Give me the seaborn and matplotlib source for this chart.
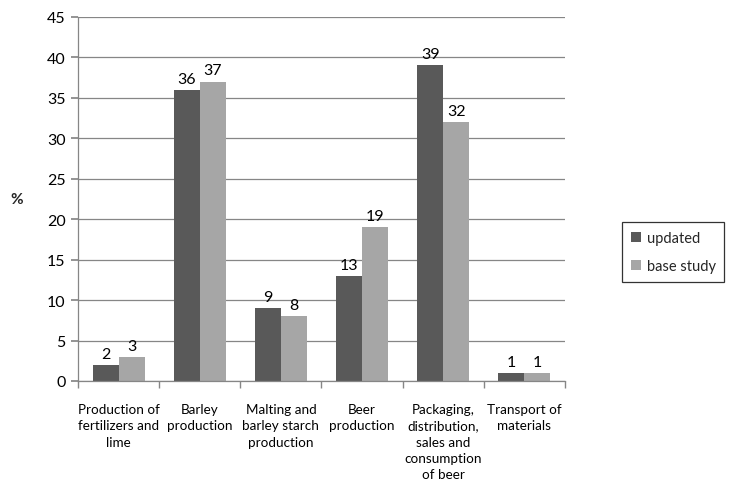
import matplotlib
matplotlib.use("Agg")
import matplotlib.pyplot as plt
import seaborn as sns
import pandas as pd
import numpy as np

categories = [
    "Production of\nfertilizers and\nlime",
    "Barley\nproduction",
    "Malting and\nbarley starch\nproduction",
    "Beer\nproduction",
    "Packaging,\ndistribution,\nsales and\nconsumption\nof beer",
    "Transport of\nmaterials",
]
updated = [2, 36, 9, 13, 39, 1]
base_study = [3, 37, 8, 19, 32, 1]
series = ["updated", "base study"]

df = pd.DataFrame({
    "category": categories * 2,
    "value": updated + base_study,
    "series": [series[0]] * len(categories) + [series[1]] * len(categories),
})

sns.set_theme(style="white")
plt.rcParams["font.family"] = ["Lato", "DejaVu Sans"]

fig = plt.figure(figsize=(7.29, 4.85), dpi=100)
ax = fig.add_axes([0.107, 0.2124, 0.668, 0.7506])

palette = {"updated": "#595959", "base study": "#a6a6a6"}
sns.barplot(data=df, x="category", y="value", hue="series", palette=palette,
            width=0.64, saturation=1, ax=ax, linewidth=0, legend=True)

for cont in ax.containers:
    ax.bar_label(cont, labels=[f"{v:.0f}" for v in cont.datavalues],
                 padding=3, fontsize=11.5, color="#000000")

ax.set_ylim(0, 45)
ax.set_yticks(np.arange(0, 46, 5))
ax.set_xlim(-0.5, len(categories) - 0.5)
ax.yaxis.grid(True, color="#868686", linewidth=0.9)
ax.set_axisbelow(True)

ax.set_xlabel("")
ax.set_ylabel("%", rotation=0, fontsize=11, fontweight="bold", labelpad=22, va="center")

for s in ["top", "right"]:
    ax.spines[s].set_visible(False)
for s in ["left", "bottom"]:
    ax.spines[s].set_color("#868686")
    ax.spines[s].set_linewidth(0.9)

ax.tick_params(axis="y", which="major", left=True, length=5, color="#868686",
               labelsize=11.5, pad=4, labelcolor="#000000")
ax.tick_params(axis="x", which="major", bottom=False, labelsize=9.7, pad=10,
               labelcolor="#000000")
ax.set_xticks(np.arange(-0.5, len(categories), 1.0), minor=True)
ax.tick_params(axis="x", which="minor", bottom=True, length=5, color="#868686")
for lab in ax.get_xticklabels():
    lab.set_linespacing(1.42)
    lab.set_va("top")

leg = ax.legend(loc="center left", bbox_to_anchor=(1.117, 0.354), frameon=True,
                fontsize=10.5, handlelength=0.7, handleheight=0.7,
                labelspacing=1.0, borderpad=0.6, borderaxespad=0,
                handletextpad=0.4, fancybox=False)
leg.get_frame().set_edgecolor("#000000")
leg.get_frame().set_linewidth(0.9)

fig.savefig("out.png", dpi=100)
